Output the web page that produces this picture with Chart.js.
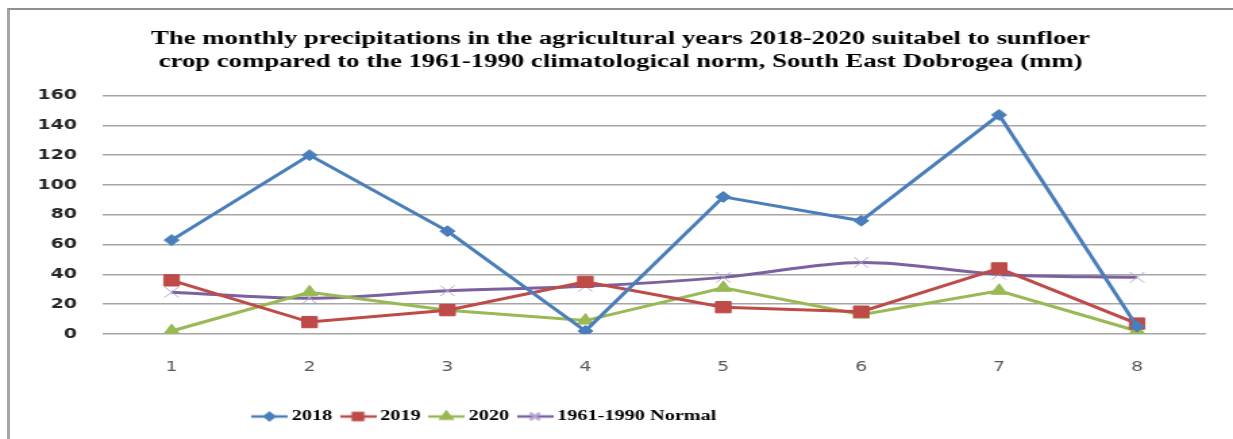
<!DOCTYPE html>
<html>
<head>
<meta charset="utf-8">
<script src="https://cdn.jsdelivr.net/npm/chart.js@4/dist/chart.umd.min.js"></script>
<style>
    html, body { margin: 0; padding: 0; background: #fff; }
    body { width: 1233px; height: 439px; overflow: hidden; position: relative; }
    .frame {
        position: absolute; left: 7px; top: 8px; width: 1240px; height: 460px;
        border-left: 3px solid #a6a6a6; border-top: 2px solid #8f8f8f;
    }
    .stretch {
        position: absolute; left: 0; top: 0; width: 913px; height: 439px;
        transform: scaleX(1.3505); transform-origin: 0 0;
    }
</style>
</head>
<body>
<div class="frame"></div>
<div class="stretch"><canvas id="precipChart" width="913" height="439"></canvas></div>

<script>
// monthly precipitation (mm), months of the agricultural year
const months = ['1', '2', '3', '4', '5', '6', '7', '8'];
const rain2018 = [63, 120, 69, 2, 92, 76, 147, 5];
const rain2019 = [36, 8, 16, 35, 18, 15, 44, 7];
const rain2020 = [2, 28, 16, 9, 31, 13, 29, 2];
const rainNormal = [28, 24, 29, 32, 38, 48, 40, 38];
const yTicks = [0, 20, 40, 60, 80, 100, 120, 140, 160];

const titleLines = [
    'The monthly precipitations in the agricultural years 2018-2020 suitabel to sunfloer',
    'crop compared to the 1961-1990 climatological norm, South East Dobrogea (mm)'
];

// small line + marker swatch for the legend, like the office-style legend
function legendSwatch(color, style, radius, markerColor) {
    const c = document.createElement('canvas');
    c.width = 27;
    c.height = 14;
    const ctx = c.getContext('2d');
    ctx.strokeStyle = color;
    ctx.lineWidth = 2.5;
    ctx.beginPath();
    ctx.moveTo(0, 7);
    ctx.lineTo(27, 7);
    ctx.stroke();
    ctx.fillStyle = markerColor || color;
    ctx.strokeStyle = markerColor || color;
    Chart.helpers.drawPoint(ctx, {
        pointStyle: style, radius: radius, borderWidth: 1, rotation: 0
    }, 13.5, 7);
    return c;
}

const series = [
    { label: '2018', data: rain2018, color: '#4a7ebb', style: 'rectRot', r: 5.5, lr: 3.5 },
    { label: '2019', data: rain2019, color: '#be4b48', style: 'rect', r: 8, lr: 5 },
    { label: '2020', data: rain2020, color: '#98b954', style: 'triangle', r: 7, lr: 4.5 },
    { label: '1961-1990 Normal', data: rainNormal, color: '#7d60a0', style: 'crossRot', r: 7.5, lr: 5, marker: '#b3a5cf' }
];

// nudge title and legend boxes sideways after layout
const boxShift = {
    id: 'boxShift',
    afterLayout(chart) {
        const lg = chart.legend;
        if (lg) {
            lg.left -= 86;
            lg.right -= 86;
        }
        const tt = chart.titleBlock;
        if (tt) {
            tt.left += 13;
            tt.right += 13;
        }
    }
};

const ctx = document.getElementById('precipChart').getContext('2d');

new Chart(ctx, {
    type: 'line',
    data: {
        labels: months,
        datasets: series.map(s => ({
            label: s.label,
            data: s.data,
            borderColor: s.color,
            backgroundColor: s.marker || s.color,
            borderWidth: 3,
            pointStyle: s.style,
            pointRadius: s.r,
            pointBorderColor: s.marker || s.color,
            pointBackgroundColor: s.marker || s.color,
            pointBorderWidth: 1,
            tension: s.label.indexOf('Normal') >= 0 ? 0.35 : 0,
            fill: false
        }))
    },
    options: {
        responsive: false,
        animation: false,
        devicePixelRatio: 1,
        layout: { padding: { left: 0, right: 20, top: 0, bottom: 5 } },
        scales: {
            x: {
                offset: true,
                afterFit: axis => { axis.height = 65; },
                grid: { display: false, drawTicks: false },
                border: { display: false },
                ticks: {
                    padding: 25,
                    color: '#595959',
                    font: { family: 'DejaVu Sans', size: 14 }
                }
            },
            y: {
                min: 0,
                max: 160,
                afterBuildTicks: axis => { axis.ticks = yTicks.map(v => ({ value: v })); },
                afterFit: axis => { axis.width = 76; },
                grid: { color: '#a6a6a6', lineWidth: 1.5, drawTicks: false },
                border: { display: false },
                ticks: {
                    padding: 19,
                    color: '#262626',
                    font: { family: 'DejaVu Sans', size: 14, weight: 'bold' }
                }
            }
        },
        plugins: {
            title: {
                display: true,
                text: titleLines,
                color: '#000',
                font: { family: 'Liberation Serif', size: 19.8, weight: 'bold', lineHeight: 1.15 },
                padding: { top: 28, bottom: 22 }
            },
            legend: {
                position: 'bottom',
                labels: {
                    usePointStyle: true,
                    pointStyleWidth: 18,
                    padding: 10,
                    color: '#000',
                    font: { family: 'Liberation Serif', size: 15, weight: 'bold' },
                    generateLabels: chart => series.map((s, i) => ({
                        text: s.label,
                        pointStyle: legendSwatch(s.color, s.style, s.lr, s.marker),
                        fillStyle: s.color,
                        strokeStyle: s.color,
                        lineWidth: 0,
                        hidden: !chart.isDatasetVisible(i),
                        datasetIndex: i,
                        fontColor: '#000'
                    }))
                }
            },
            tooltip: { enabled: false }
        }
    },
    plugins: [boxShift]
});
</script>
</body>
</html>
